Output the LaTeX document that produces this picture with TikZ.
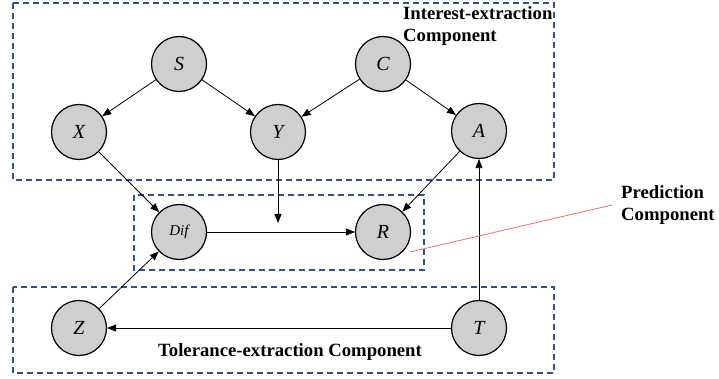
\documentclass[tikz,border=0pt]{standalone}
\usepackage{fontspec}
\setmainfont{Liberation Serif}
\usetikzlibrary{arrows.meta}
\definecolor{nodegray}{RGB}{208,206,206}
\definecolor{compblue}{RGB}{47,82,143}
\definecolor{predred}{RGB}{236,110,110}
\begin{document}
\begin{tikzpicture}[x=1pt,y=-1pt,
  var/.style={circle,draw,line width=1.2pt,fill=nodegray,minimum size=55pt,inner sep=0pt,font=\fontsize{20}{22}\selectfont\itshape},
  edge/.style={-{Triangle[length=9pt,width=7pt]},line width=0.8pt},
  comp/.style={draw=compblue,line width=1.3pt,dash pattern=on 6pt off 4pt},
  lbl/.style={font=\fontsize{18.7}{24}\selectfont\bfseries,inner sep=0pt}]
\useasboundingbox (0,0) rectangle (719,379);
% component boxes
\draw[comp] (13,3) rectangle (554,180);
\draw[comp] (134,195) rectangle (424,270);
\draw[comp] (13,287) rectangle (554,373);
% nodes
\node[var] (S) at (179,64) {S};
\node[var] (C) at (383,64) {C};
\node[var] (X) at (79,132) {X};
\node[var] (Y) at (278,132) {Y};
\node[var] (A) at (479,131) {A};
\node[var,font=\fontsize{15}{17}\selectfont\itshape] (D) at (179,232) {Dif};
\node[var] (R) at (383,232) {R};
\node[var] (Z) at (79,328) {Z};
\node[var] (T) at (479,328) {T};
\coordinate (ye) at (278,223);
% edges
\draw[edge] (S) -- (X);
\draw[edge] (S) -- (Y);
\draw[edge] (C) -- (Y);
\draw[edge] (C) -- (A);
\draw[edge] (X) -- (D);
\draw[edge] (A) -- (R);
\draw[edge] (D) -- (R);
\draw[edge] (Y) -- (ye);
\draw[edge] (T) -- (A);
\draw[edge] (T) -- (Z);
\draw[edge] (Z) -- (D);
% labels
\node[lbl,anchor=west] (ie) at (403,13) {Interest-extraction};
\node[lbl,anchor=west] (ie2) at (403,37) {Component};
\node[lbl,anchor=west] (pc) at (621,192) {Prediction};
\node[lbl,anchor=west] (pc2) at (621,216) {Component};
\node[lbl] (tc) at (290,352) {Tolerance-extraction Component};
\coordinate (p1) at (410,252);
\coordinate (p2) at (612,205);
\draw[predred,line width=0.8pt] (p1) -- (p2);
\end{tikzpicture}
\end{document}
